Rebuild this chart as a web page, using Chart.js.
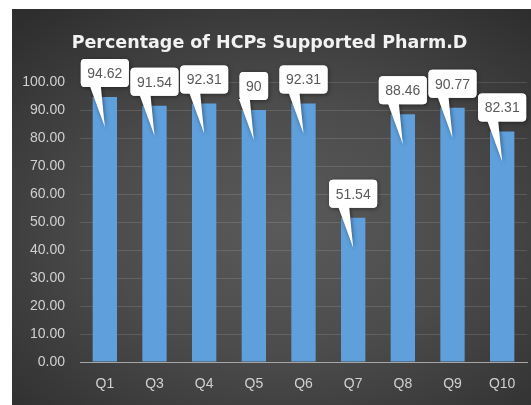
<!DOCTYPE html>
<html>
<head>
<meta charset="utf-8">
<script src="https://cdn.jsdelivr.net/npm/chart.js@4"></script>
<style>
    html, body { margin: 0; padding: 0; background: #fff; }
    #wrap {
        position: absolute; left: 12px; top: 9px; width: 519px; height: 396px;
        background: radial-gradient(ellipse 75% 70% at 52% 55%, #5a5a5a 0%, #4c4c4c 45%, #2e2e2e 100%);
    }
</style>
</head>
<body>
<div id="wrap"><canvas id="grafico" width="519" height="396"></canvas></div>
<script>
    // dados
    var categorias = ["Q1", "Q3", "Q4", "Q5", "Q6", "Q7", "Q8", "Q9", "Q10"];
    var valores = [94.62, 91.54, 92.31, 90, 92.31, 51.54, 88.46, 90.77, 82.31];
    var rotulos = ["94.62", "91.54", "92.31", "90", "92.31", "51.54", "88.46", "90.77", "82.31"];

    var fonte = "'Liberation Sans', Arial, sans-serif";

    // balões com os valores
    var baloes = {
        id: 'baloes',
        afterDatasetsDraw: function (chart) {
            var ctx = chart.ctx;
            var meta = chart.getDatasetMeta(0);
            ctx.save();
            ctx.font = "14px " + fonte;
            meta.data.forEach(function (bar, i) {
                var txt = rotulos[i];
                var w = ctx.measureText(txt).width + 13;
                var h = 28;
                var x = bar.x, y = bar.y;
                var bx = x - w / 2, by = y - 10 - h;
                ctx.shadowColor = "rgba(0,0,0,0.45)";
                ctx.shadowBlur = 4;
                ctx.shadowOffsetX = 1;
                ctx.shadowOffsetY = 1;
                ctx.fillStyle = "#ffffff";
                ctx.beginPath();
                ctx.roundRect(bx, by, w, h, 4);
                ctx.fill();
                ctx.beginPath();
                ctx.moveTo(x - 15, by + h - 1);
                ctx.lineTo(x - 4, by + h - 1);
                ctx.lineTo(x, y + 30);
                ctx.closePath();
                ctx.fill();
                ctx.shadowColor = "transparent";
                ctx.beginPath();
                ctx.roundRect(bx, by, w, h, 4);
                ctx.fill();
                ctx.fillStyle = "#595959";
                ctx.textAlign = "center";
                ctx.textBaseline = "middle";
                ctx.fillText(txt, x, by + h / 2 + 1);
            });
            ctx.restore();
        }
    };

    var ctx1 = document.getElementById("grafico").getContext("2d");
    new Chart(ctx1, {
        type: 'bar',
        data: {
            labels: categorias,
            datasets: [{
                data: valores,
                backgroundColor: "#5e9fdc",
                barPercentage: 0.49,
                categoryPercentage: 1
            }]
        },
        options: {
            responsive: false,
            animation: false,
            layout: { padding: { right: 4 } },
            plugins: {
                legend: { display: false },
                tooltip: { enabled: false },
                title: {
                    display: true,
                    text: "Percentage of HCPs Supported Pharm.D",
                    color: "#f2f2f2",
                    font: { family: "'DejaVu Sans', sans-serif", size: 17.5, weight: 'bold', lineHeight: 1.2 },
                    padding: { top: 24, bottom: 28 }
                }
            },
            scales: {
                x: {
                    grid: { display: false, drawTicks: false },
                    border: { color: "#a6a6a6", width: 1 },
                    ticks: { color: "#d0d0d0", padding: 14, font: { family: fonte, size: 14 } },
                    afterFit: function (s) { s.height = 43; }
                },
                y: {
                    min: 0,
                    max: 100,
                    grid: { color: "rgba(255,255,255,0.12)", drawTicks: false },
                    border: { display: false },
                    ticks: {
                        stepSize: 10,
                        color: "#d0d0d0",
                        padding: 15,
                        font: { family: fonte, size: 14 },
                        callback: function (v) { return v.toFixed(2); }
                    },
                    afterFit: function (s) { s.width = 68; }
                }
            }
        },
        plugins: [baloes]
    });
</script>
</body>
</html>
